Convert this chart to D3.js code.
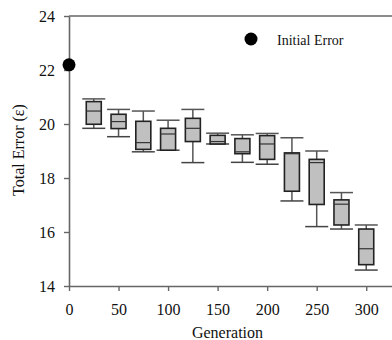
<!DOCTYPE html>
<html>
<head>
<meta charset="utf-8">
<script src="https://cdn.jsdelivr.net/npm/d3@7"></script>
<style>
  html, body { margin: 0; padding: 0; background: #fff; }
  svg { display: block; font-family: "Liberation Serif", "Times New Roman", serif; }
</style>
</head>
<body>
<div id="chart"></div>
<script>
// box plot values per generation
const generations = [25, 50, 75, 100, 125, 150, 175, 200, 225, 250, 275, 300];
const whiskerHigh = [20.93, 20.54, 20.48, 20.14, 20.54, 19.66, 19.60, 19.65, 19.49, 19.00, 17.46, 16.26];
const q3          = [20.83, 20.36, 20.10, 19.84, 20.21, 19.58, 19.46, 19.57, 18.93, 18.69, 17.19, 16.11];
const medians     = [20.48, 20.09, 19.31, 19.63, 19.84, 19.35, 18.97, 19.26, 18.90, 18.57, 17.03, 15.38];
const q1          = [19.99, 19.83, 19.06, 19.03, 19.35, 19.26, 18.90, 18.69, 17.51, 17.02, 16.26, 14.79];
const whiskerLow  = [19.84, 19.53, 18.97, 19.03, 18.57, 19.26, 18.58, 18.51, 17.15, 16.20, 16.11, 14.59];

const initialGen = [0];
const initialErr = [22.19];

const xTicks = [0, 50, 100, 150, 200, 250, 300];
const yTicks = [14, 16, 18, 20, 22, 24];

const width = 392, height = 340;
const margin = { left: 69, top: 16, bottom: 286 };

const svg = d3.select('#chart').append('svg')
  .attr('width', width)
  .attr('height', height);

const x = d3.scaleLinear().domain([0, 326]).range([margin.left, width]);
const y = d3.scaleLinear().domain([14, 24]).range([margin.bottom, margin.top]);

const data = generations.map((g, i) => ({
  g, lo: whiskerLow[i], q1: q1[i], med: medians[i], q3: q3[i], hi: whiskerHigh[i]
}));

const boxW = 15, capW = 23;
const axisColor = '#666';

// whiskers
const boxes = svg.append('g');
boxes.selectAll('.whisker')
  .data(data)
  .enter().append('line')
  .attr('x1', d => x(d.g)).attr('x2', d => x(d.g))
  .attr('y1', d => y(d.hi)).attr('y2', d => y(d.lo))
  .attr('stroke', '#555').attr('stroke-width', 1.5);

boxes.selectAll('.capHi')
  .data(data)
  .enter().append('line')
  .attr('x1', d => x(d.g) - capW / 2).attr('x2', d => x(d.g) + capW / 2)
  .attr('y1', d => y(d.hi)).attr('y2', d => y(d.hi))
  .attr('stroke', '#555').attr('stroke-width', 1.5);

boxes.selectAll('.capLo')
  .data(data)
  .enter().append('line')
  .attr('x1', d => x(d.g) - capW / 2).attr('x2', d => x(d.g) + capW / 2)
  .attr('y1', d => y(d.lo)).attr('y2', d => y(d.lo))
  .attr('stroke', '#444').attr('stroke-width', 1.5);

boxes.selectAll('.box')
  .data(data)
  .enter().append('rect')
  .attr('x', d => x(d.g) - boxW / 2)
  .attr('width', boxW)
  .attr('y', d => y(d.q3))
  .attr('height', d => y(d.q1) - y(d.q3))
  .attr('fill', '#c0c0c0')
  .attr('stroke', '#222')
  .attr('stroke-width', 1.6);

boxes.selectAll('.median')
  .data(data)
  .enter().append('line')
  .attr('x1', d => x(d.g) - boxW / 2).attr('x2', d => x(d.g) + boxW / 2)
  .attr('y1', d => y(d.med)).attr('y2', d => y(d.med))
  .attr('stroke', '#333').attr('stroke-width', 1.2);

// axes
const xAxis = svg.append('g')
  .attr('transform', `translate(0,${margin.bottom})`)
  .call(d3.axisBottom(x).tickValues(xTicks).tickSize(5).tickSizeOuter(0));

const yAxis = svg.append('g')
  .attr('transform', `translate(${margin.left},0)`)
  .call(d3.axisLeft(y).tickValues(yTicks).tickSize(5).tickSizeOuter(0));

[xAxis, yAxis].forEach(a => {
  a.select('.domain').attr('stroke', axisColor).attr('stroke-width', 1.6);
  a.selectAll('.tick line').attr('stroke', axisColor).attr('stroke-width', 1.4);
  a.selectAll('.tick text')
    .attr('fill', '#111')
    .style('font-family', '"Liberation Serif", serif')
    .style('font-size', '16px');
});
xAxis.selectAll('.tick text').attr('y', 18);
yAxis.selectAll('.tick text').attr('x', -14);

// top frame line
svg.append('line')
  .attr('x1', margin.left).attr('x2', width)
  .attr('y1', y(24)).attr('y2', y(24))
  .attr('stroke', axisColor).attr('stroke-width', 1.6);

// initial error point
svg.selectAll('.initial')
  .data(initialGen.map((g, i) => ({ g, v: initialErr[i] })))
  .enter().append('circle')
  .attr('cx', d => x(d.g))
  .attr('cy', d => y(d.v))
  .attr('r', 6.5)
  .attr('fill', '#000');

// legend
svg.append('circle')
  .attr('cx', 251).attr('cy', 39).attr('r', 6.5).attr('fill', '#000');
svg.append('text')
  .attr('x', 277).attr('y', 45)
  .style('font-size', '14px')
  .attr('fill', '#111')
  .text('Initial Error');

// axis titles
svg.append('text')
  .attr('x', (margin.left + x(326)) / 2 - 3)
  .attr('y', 338)
  .attr('text-anchor', 'middle')
  .style('font-size', '16px')
  .attr('fill', '#111')
  .text('Generation');

svg.append('text')
  .attr('transform', 'rotate(-90)')
  .attr('x', -150)
  .attr('y', 24)
  .attr('text-anchor', 'middle')
  .style('font-size', '16px')
  .attr('fill', '#111')
  .text('Total Error (ε)');
</script>
</body>
</html>
